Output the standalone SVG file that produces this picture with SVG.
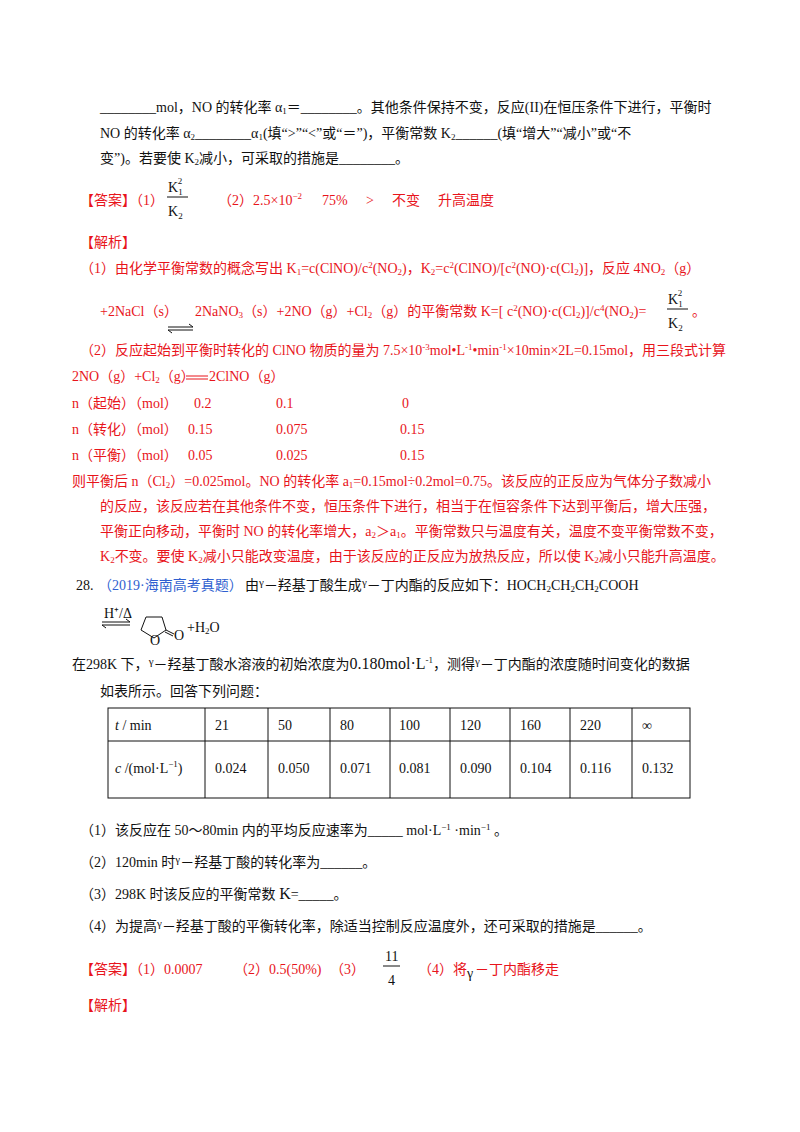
<svg xmlns="http://www.w3.org/2000/svg" width="800" height="1132" viewBox="0 0 800 1132">
<style>
text{font-family:"Liberation Serif","Noto Sans CJK SC",serif;font-size:14px;fill:#111}
.r{fill:#e8141b}
.b{fill:#2f5fd0}
.s{font-size:9px}
.ln{stroke:#111;stroke-width:1;fill:none}
</style>
<rect width="800" height="1132" fill="#fff"/>
<g id="question-part">
<text x="100" y="112">________mol，NO 的转化率 α<tspan class="s" dy="2">1</tspan><tspan dy="-2">＝________。其他条件保持不变，反应(II)在恒压条件下进行，平衡时</tspan></text>
<text x="100" y="138">NO 的转化率 α<tspan class="s" dy="2">2</tspan><tspan dy="-2">________α</tspan><tspan class="s" dy="2">1</tspan><tspan dy="-2">(填“&gt;”“&lt;”或“＝”)，平衡常数 K</tspan><tspan class="s" dy="2">2</tspan><tspan dy="-2">______(填“增大”“减小”或“不</tspan></text>
<text x="100" y="163">变”)。若要使 K<tspan class="s" dy="2">2</tspan><tspan dy="-2">减小，可采取的措施是________。</tspan></text>
</g>
<g id="answer1">
<text x="80" y="205" class="r">【答案】（1）</text>
<text x="168" y="192">K<tspan class="s" dy="3">1</tspan><tspan class="s" dx="-5" dy="-11">2</tspan></text>
<line x1="167" y1="197" x2="188" y2="197" class="ln"/>
<text x="168" y="216">K<tspan class="s" dy="3">2</tspan></text>
<text x="218" y="205" class="r">（2）2.5×10<tspan class="s" dy="-6">−2</tspan></text>
<text x="322" y="205" class="r">75%</text>
<text x="366" y="205" class="r">&gt;</text>
<text x="392" y="205" class="r">不变</text>
<text x="438" y="205" class="r">升高温度</text>
</g>
<g id="analysis1">
<text x="80" y="247" class="r">【解析】</text>
<text x="80" y="273" class="r">（1）由化学平衡常数的概念写出 K<tspan class="s" dy="2">1</tspan><tspan dy="-2">=c(ClNO)/c</tspan><tspan class="s" dy="-5">2</tspan><tspan dy="5">(NO</tspan><tspan class="s" dy="2">2</tspan><tspan dy="-2">)，K</tspan><tspan class="s" dy="2">2</tspan><tspan dy="-2">=c</tspan><tspan class="s" dy="-5">2</tspan><tspan dy="5">(ClNO)/[c</tspan><tspan class="s" dy="-5">2</tspan><tspan dy="5">(NO)·c(Cl</tspan><tspan class="s" dy="2">2</tspan><tspan dy="-2">)]，反应 4NO</tspan><tspan class="s" dy="2">2</tspan><tspan dy="-2">（g）</tspan></text>
<text x="100" y="316" class="r">+2NaCl（s）</text>
<g class="ln"><line x1="168" y1="327" x2="193" y2="327"/><line x1="168" y1="330" x2="193" y2="330"/><line x1="189" y1="324" x2="193" y2="327"/><line x1="168" y1="330" x2="172" y2="333"/></g>
<text x="195" y="316" class="r">2NaNO<tspan class="s" dy="2">3</tspan><tspan dy="-2">（s）+2NO（g）+Cl</tspan><tspan class="s" dy="2">2</tspan><tspan dy="-2">（g）的平衡常数 K=[ c</tspan><tspan class="s" dy="-5">2</tspan><tspan dy="5">(NO)·c(Cl</tspan><tspan class="s" dy="2">2</tspan><tspan dy="-2">)]/c</tspan><tspan class="s" dy="-5">4</tspan><tspan dy="5">(NO</tspan><tspan class="s" dy="2">2</tspan><tspan dy="-2">)=</tspan></text>
<text x="668" y="304">K<tspan class="s" dy="3">1</tspan><tspan class="s" dx="-5" dy="-11">2</tspan></text>
<line x1="667" y1="309" x2="688" y2="309" class="ln"/>
<text x="668" y="328">K<tspan class="s" dy="3">2</tspan></text>
<text x="692" y="316" class="r">。</text>
<text x="80" y="355" class="r">（2）反应起始到平衡时转化的 ClNO 物质的量为 7.5×10<tspan class="s" dy="-5">-3</tspan><tspan dy="5">mol•L</tspan><tspan class="s" dy="-5">-1</tspan><tspan dy="5">•min</tspan><tspan class="s" dy="-5">-1</tspan><tspan dy="5">×10min×2L=0.15mol，用三段式计算</tspan></text>
<text x="72" y="381" class="r">2NO（g）+Cl<tspan class="s" dy="2">2</tspan><tspan dy="-2">（g）</tspan></text>
<g stroke="#e8141b" stroke-width="1"><line x1="186" y1="376" x2="208" y2="376"/><line x1="186" y1="379" x2="208" y2="379"/></g>
<text x="209" y="381" class="r">2ClNO（g）</text>
<text x="72" y="408" class="r">n（起始）（mol）</text><text x="194" y="408" class="r">0.2</text><text x="276" y="408" class="r">0.1</text><text x="402" y="408" class="r">0</text>
<text x="72" y="434" class="r">n（转化）（mol）</text><text x="188" y="434" class="r">0.15</text><text x="276" y="434" class="r">0.075</text><text x="400" y="434" class="r">0.15</text>
<text x="72" y="460" class="r">n（平衡）（mol）</text><text x="188" y="460" class="r">0.05</text><text x="276" y="460" class="r">0.025</text><text x="400" y="460" class="r">0.15</text>
<text x="72" y="486" class="r">则平衡后 n（Cl<tspan class="s" dy="2">2</tspan><tspan dy="-2">）=0.025mol。NO 的转化率 a</tspan><tspan class="s" dy="2">1</tspan><tspan dy="-2">=0.15mol÷0.2mol=0.75。该反应的正反应为气体分子数减小</tspan></text>
<text x="100" y="511" class="r">的反应，该反应若在其他条件不变，恒压条件下进行，相当于在恒容条件下达到平衡后，增大压强，</text>
<text x="100" y="536" class="r">平衡正向移动，平衡时 NO 的转化率增大，a<tspan class="s" dy="2">2</tspan><tspan dy="-2">＞a</tspan><tspan class="s" dy="2">1</tspan><tspan dy="-2">。平衡常数只与温度有关，温度不变平衡常数不变，</tspan></text>
<text x="100" y="561" class="r">K<tspan class="s" dy="2">2</tspan><tspan dy="-2">不变。要使 K</tspan><tspan class="s" dy="2">2</tspan><tspan dy="-2">减小只能改变温度，由于该反应的正反应为放热反应，所以使 K</tspan><tspan class="s" dy="2">2</tspan><tspan dy="-2">减小只能升高温度。</tspan></text>
</g>
<g id="question28">
<text x="76" y="590">28.</text>
<text x="98" y="590" class="b">（2019·海南高考真题）</text>
<text x="245" y="590">由<tspan font-size="11" dy="-4">γ</tspan><tspan dy="4">－羟基丁酸生成</tspan><tspan font-size="11" dy="-4">γ</tspan><tspan dy="4">－丁内酯的反应如下：HOCH</tspan><tspan class="s" dy="2">2</tspan><tspan dy="-2">CH</tspan><tspan class="s" dy="2">2</tspan><tspan dy="-2">CH</tspan><tspan class="s" dy="2">2</tspan><tspan dy="-2">COOH</tspan></text>
<g id="reaction">
<text x="104" y="618" font-size="8">H⁺/Δ</text>
<g class="ln"><line x1="102" y1="622" x2="130" y2="622"/><line x1="102" y1="625" x2="130" y2="625"/><line x1="126" y1="619" x2="130" y2="622"/><line x1="102" y1="625" x2="106" y2="628"/>
<polygon points="146,617 162,617 166,630 154,638 141,630"/><line x1="166" y1="630" x2="174" y2="634"/><line x1="165" y1="632" x2="173" y2="636"/></g>
<text x="150" y="645" font-size="8">O</text><text x="174" y="640" font-size="8">O</text>
<text x="187" y="632">+H<tspan class="s" dy="2">2</tspan><tspan dy="-2">O</tspan></text>
</g>
<text x="72" y="669">在298K 下，<tspan font-size="11" dy="-4">γ</tspan><tspan dy="4">－羟基丁酸水溶液的初始浓度为</tspan><tspan font-size="16">0.180mol·L</tspan><tspan class="s" dy="-6">-1</tspan><tspan dy="6">，测得</tspan><tspan font-size="11" dy="-4">γ</tspan><tspan dy="4">－丁内酯的浓度随时间变化的数据</tspan></text>
<text x="100" y="696">如表所示。回答下列问题：</text>
</g>
<g id="table">
<rect x="108" y="708" width="582" height="90" class="ln"/>
<line x1="108" y1="741" x2="690" y2="741" class="ln"/>
<g class="ln"><line x1="205" y1="708" x2="205" y2="798"/><line x1="268" y1="708" x2="268" y2="798"/><line x1="330" y1="708" x2="330" y2="798"/><line x1="390" y1="708" x2="390" y2="798"/><line x1="450" y1="708" x2="450" y2="798"/><line x1="510" y1="708" x2="510" y2="798"/><line x1="570" y1="708" x2="570" y2="798"/><line x1="632" y1="708" x2="632" y2="798"/></g>
<text x="115" y="730"><tspan font-style="italic">t</tspan> / min</text>
<text x="215" y="730">21</text><text x="278" y="730">50</text><text x="340" y="730">80</text><text x="399" y="730">100</text><text x="460" y="730">120</text><text x="520" y="730">160</text><text x="580" y="730">220</text><text x="642" y="730">∞</text>
<text x="115" y="773" font-size="15"><tspan font-style="italic">c</tspan> /(mol·L<tspan class="s" dy="-6">−1</tspan><tspan dy="6">)</tspan></text>
<text x="215" y="773">0.024</text><text x="278" y="773">0.050</text><text x="340" y="773">0.071</text><text x="399" y="773">0.081</text><text x="460" y="773">0.090</text><text x="520" y="773">0.104</text><text x="580" y="773">0.116</text><text x="642" y="773">0.132</text>
</g>
<g id="subquestions">
<text x="80" y="835">（1）该反应在 50～80min 内的平均反应速率为_____ mol·L<tspan class="s" dy="-5">−1</tspan><tspan dy="5"> ·min</tspan><tspan class="s" dy="-5">−1</tspan><tspan dy="5"> 。</tspan></text>
<text x="80" y="867">（2）120min 时<tspan font-size="11" dy="-4">γ</tspan><tspan dy="4">－羟基丁酸的转化率为______。</tspan></text>
<text x="80" y="899">（3）298K 时该反应的平衡常数 <tspan font-size="16">K</tspan>=_____。</text>
<text x="80" y="931">（4）为提高<tspan font-size="11" dy="-4">γ</tspan><tspan dy="4">－羟基丁酸的平衡转化率，除适当控制反应温度外，还可采取的措施是______。</tspan></text>
</g>
<g id="answer28">
<text x="80" y="974" class="r">【答案】（1）0.0007</text>
<text x="234" y="974" class="r">（2）0.5(50%)</text>
<text x="330" y="974" class="r">（3）</text>
<text x="385" y="961">11</text>
<line x1="383" y1="966" x2="400" y2="966" class="ln"/>
<text x="388" y="985">4</text>
<text x="418" y="974" class="r">（4）将</text>
<text x="467" y="978" font-size="11">γ</text>
<text x="475" y="974" class="r">－丁内酯移走</text>
<text x="80" y="1010" class="r">【解析】</text>
</g>
</svg>
